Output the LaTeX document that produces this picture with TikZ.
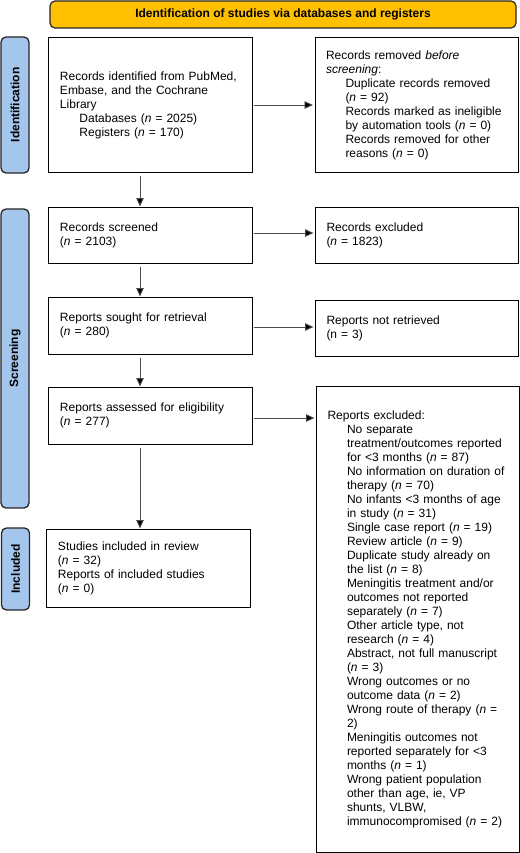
\documentclass[tikz,border=0pt]{standalone}
\usepackage{fontspec}
\setmainfont{Liberation Sans}
\usetikzlibrary{calc}
\usetikzlibrary{arrows.meta}

\definecolor{bannerorange}{HTML}{FFC000}
\definecolor{barblue}{HTML}{A4C6EC}
\newcommand{\ind}{\hspace*{19.5bp}}

\tikzset{
  box/.style={draw=black, line width=1bp, text width=181bp, inner xsep=11bp, inner ysep=0pt,
    align=left, font=\fontsize{12bp}{14bp}\selectfont},
  bar/.style={draw=black!85, line width=1.3bp, fill=barblue, rounded corners=5bp, rotate=90,
    minimum height=28bp, inner sep=0pt, font=\fontsize{12bp}{14bp}\selectfont\bfseries},
  flow/.style={draw=black!70, line width=0.9bp, -{Triangle[length=8.5bp,width=7.5bp,fill=black]}}
}

\begin{document}
\begin{tikzpicture}[x=1bp,y=-1bp]

\useasboundingbox (0,0) rectangle (520,853);

\node[draw=black!85, line width=1.2bp, fill=bannerorange, rounded corners=5bp,
  minimum width=466bp, minimum height=27bp, inner sep=0pt,
  font=\fontsize{12bp}{14bp}\selectfont\bfseries] (banner) at (283,14.5)
  {Identification of studies via databases and registers};

\node[bar, minimum width=136bp] (idbar) at (15,105) {Identification};
\node[bar, minimum width=299bp] (scrbar) at (15,358.5) {Screening};
\node[bar, minimum width=82bp] (incbar) at (15.5,569) {Included};

\node[box, minimum height=134bp] (ident) at (150.5,105)
  {Records identified from PubMed,\\
   Embase, and the Cochrane\\
   Library\\
   \ind Databases (\textit{n} = 2025)\\
   \ind Registers (\textit{n} = 170)};

\node[box, minimum height=134bp] (removed) at (416.5,105)
  {Records removed \textit{before}\\
   \textit{screening}:\\
   \ind Duplicate records removed\\
   \ind (\textit{n} = 92)\\
   \ind Records marked as ineligible\\
   \ind by automation tools (\textit{n} = 0)\\
   \ind Records removed for other\\
   \ind reasons (\textit{n} = 0)};

\node[box, minimum height=56bp] (screened) at (150.5,235)
  {Records screened\\(\textit{n} = 2103)};
\node[box, minimum height=56bp] (excluded) at (417,235)
  {Records excluded\\(\textit{n} = 1823)};

\node[box, minimum height=57bp] (sought) at (150.5,325.5)
  {Reports sought for retrieval\\(\textit{n} = 280)};
\node[box, minimum height=56bp] (notret) at (417,328)
  {Reports not retrieved\\(n = 3)};

\node[box, minimum height=57bp] (assessed) at (150.5,415.5)
  {Reports assessed for eligibility\\(\textit{n} = 277)};
\node[box, minimum height=466bp] (repexcl) at (418,619)
  {Reports excluded:\\
   \ind No separate\\
   \ind treatment/outcomes reported\\
   \ind for {<}3 months (\textit{n} = 87)\\
   \ind No information on duration of\\
   \ind therapy (\textit{n} = 70)\\
   \ind No infants {<}3 months of age\\
   \ind in study (\textit{n} = 31)\\
   \ind Single case report (\textit{n} = 19)\\
   \ind Review article (\textit{n} = 9)\\
   \ind Duplicate study already on\\
   \ind the list (\textit{n} = 8)\\
   \ind Meningitis treatment and/or\\
   \ind outcomes not reported\\
   \ind separately (\textit{n} = 7)\\
   \ind Other article type, not\\
   \ind research (\textit{n} = 4)\\
   \ind Abstract, not full manuscript\\
   \ind (\textit{n} = 3)\\
   \ind Wrong outcomes or no\\
   \ind outcome data (\textit{n} = 2)\\
   \ind Wrong route of therapy (\textit{n} =\\
   \ind 2)\\
   \ind Meningitis outcomes not\\
   \ind reported separately for {<}3\\
   \ind months (\textit{n} = 1)\\
   \ind Wrong patient population\\
   \ind other than age, ie, VP\\
   \ind shunts, VLBW,\\
   \ind immunocompromised (\textit{n} = 2)};

\node[box, minimum height=78bp] (included) at (148.5,568)
  {Studies included in review\\
   (\textit{n} = 32)\\
   Reports of included studies\\
   (\textit{n} = 0)};

% main column of arrows
\coordinate (spine) at (140,0);
\draw[flow, shorten <=3bp] (ident.south -| spine) -- (screened.north -| spine);
\draw[flow, shorten <=3bp] (screened.south -| spine) -- (sought.north -| spine);
\draw[flow, shorten <=3bp] (sought.south -| spine) -- (assessed.north -| spine);
\draw[flow, shorten <=3bp] (assessed.south -| spine) -- (included.north -| spine);

% arrows to the right
\draw[flow, shorten <=1bp, shorten >=1.5bp] (ident.east) -- (ident.east -| removed.west);
\draw[flow, shorten <=1bp, shorten >=1.5bp] ($(screened.east)+(0,-2)$) -- ($(screened.east -| excluded.west)+(0,-2)$);
\draw[flow, shorten <=1bp, shorten >=1.5bp] ($(sought.east)+(0,1.5)$) -- ($(sought.east -| notret.west)+(0,1.5)$);
\draw[flow, shorten <=1bp, shorten >=1.5bp] ($(assessed.east)+(0,2.5)$) -- ($(assessed.east -| repexcl.west)+(0,2.5)$);

\end{tikzpicture}
\end{document}
